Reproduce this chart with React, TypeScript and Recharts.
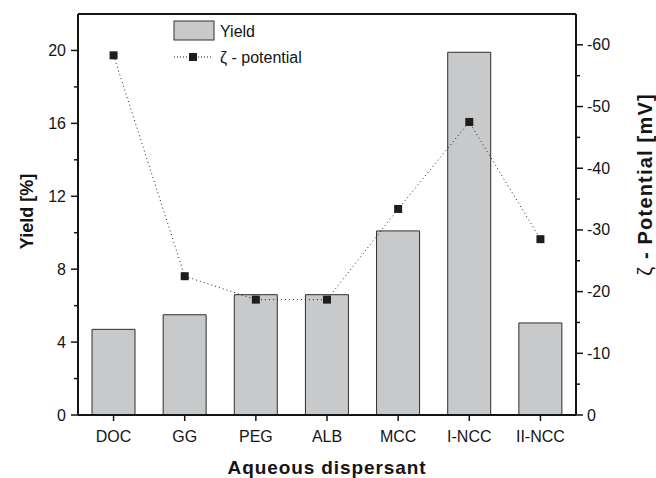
import {
  ComposedChart,
  Bar,
  Line,
  XAxis,
  YAxis,
  Legend,
  ReferenceLine,
} from 'recharts';

const categories = ['DOC', 'GG', 'PEG', 'ALB', 'MCC', 'I-NCC', 'II-NCC'];
const yieldValues = [4.7, 5.5, 6.6, 6.6, 10.1, 19.9, 5.05];
const zetaValues = [-58.3, -22.5, -18.7, -18.7, -33.4, -47.5, -28.5];

const yieldTicks = [0, 2, 4, 6, 8, 10, 12, 14, 16, 18, 20];
const zetaTicks = [0, -5, -10, -15, -20, -25, -30, -35, -40, -45, -50, -55, -60];

const data = categories.map((name, i) => ({
  name,
  yield: yieldValues[i],
  zeta: zetaValues[i],
}));

const FONT = '"Liberation Sans", Arial, Helvetica, sans-serif';
const INK = '#141414';

const LeftTick = ({ x, y, payload }: any) => {
  const major = payload.value % 4 === 0;
  return (
    <g>
      <line x1={x} x2={x - (major ? 7 : 4)} y1={y} y2={y} stroke={INK} strokeWidth={1.5} />
      {major && (
        <text x={x - 12} y={y} textAnchor="end" dominantBaseline="central" fontSize={16} fill={INK} fontFamily={FONT}>
          {payload.value}
        </text>
      )}
    </g>
  );
};

const RightTick = ({ x, y, payload }: any) => {
  const major = payload.value % 10 === 0;
  return (
    <g>
      <line x1={x} x2={x + (major ? 7 : 4)} y1={y} y2={y} stroke={INK} strokeWidth={1.5} />
      {major && (
        <text x={x + 11} y={y} textAnchor="start" dominantBaseline="central" fontSize={16} fill={INK} fontFamily={FONT}>
          {payload.value}
        </text>
      )}
    </g>
  );
};

const SquareDot = ({ cx, cy, index }: any) => (
  <rect key={index} x={cx - 4} y={cy - 4} width={8} height={8} fill="#1e1e1e" />
);

const renderLegend = () => (
  <svg width={170} height={52} style={{ display: 'block', fontFamily: FONT }}>
    <rect x={2} y={5} width={40} height={19} fill="#c8c9cb" stroke="#333" strokeWidth={1} />
    <text x={48} y={15} dominantBaseline="central" fontSize={16} fill={INK}>Yield</text>
    <line x1={2} x2={41} y1={41} y2={41} stroke={INK} strokeWidth={1} strokeDasharray="1 2" />
    <rect x={17} y={37} width={8} height={8} fill="#1e1e1e" />
    <text x={48} y={41} dominantBaseline="central" fontSize={16} fill={INK}>ζ - potential</text>
  </svg>
);

const LeftTitle = ({ viewBox }: any) => {
  const cx = viewBox.x + 27;
  const cy = viewBox.y + viewBox.height / 2 - 3;
  return (
    <text
      x={cx}
      y={cy}
      transform={`rotate(-90, ${cx}, ${cy})`}
      textAnchor="middle"
      dominantBaseline="central"
      fontSize={18}
      fontWeight="bold"
      fill={INK}
      fontFamily={FONT}
    >
      Yield [%]
    </text>
  );
};

const RightTitle = ({ viewBox }: any) => {
  const cx = viewBox.x + 69;
  const cy = viewBox.y + viewBox.height / 2 - 30;
  return (
    <text
      x={cx}
      y={cy}
      transform={`rotate(-90, ${cx}, ${cy})`}
      textAnchor="middle"
      dominantBaseline="central"
      fontSize={20}
      letterSpacing={1.2}
      fill={INK}
      fontFamily={FONT}
    >
      <tspan fontWeight="normal">ζ</tspan>
      <tspan fontWeight="bold"> - Potential [mV]</tspan>
    </text>
  );
};

const BottomTitle = ({ viewBox }: any) => (
  <text
    x={viewBox.x + viewBox.width / 2}
    y={viewBox.y + 52}
    textAnchor="middle"
    dominantBaseline="central"
    fontSize={19}
    letterSpacing={0.9}
    fontWeight="bold"
    fill={INK}
    fontFamily={FONT}
  >
    Aqueous dispersant
  </text>
);

export default function App() {
  return (
    <div style={{ position: 'absolute', left: 0, top: 0, width: 656, height: 478, background: '#fff', fontFamily: FONT }}>
      <ComposedChart
        width={656}
        height={478}
        data={data}
        margin={{ top: 14, right: 0, bottom: 0, left: 0 }}
        barCategoryGap={0}
      >
        <XAxis
          dataKey="name"
          xAxisId={0}
          interval={0}
          height={63}
          axisLine={{ stroke: INK, strokeWidth: 2 }}
          tickLine={{ stroke: INK, strokeWidth: 1.5 }}
          tickSize={6}
          tickMargin={10}
          tick={{ fill: INK, fontSize: 16, fontFamily: FONT }}
          label={<BottomTitle />}
        />
        <YAxis
          yAxisId="left"
          orientation="left"
          width={78}
          domain={[0, 22]}
          ticks={yieldTicks}
          interval={0}
          allowDataOverflow
          axisLine={{ stroke: INK, strokeWidth: 2 }}
          tickLine={false}
          tickSize={0}
          tickMargin={0}
          tick={<LeftTick />}
          label={<LeftTitle />}
        />
        <YAxis
          yAxisId="right"
          orientation="right"
          width={80}
          domain={[-65, 0]}
          reversed
          ticks={zetaTicks}
          interval={0}
          allowDataOverflow
          axisLine={{ stroke: INK, strokeWidth: 2 }}
          tickLine={false}
          tickSize={0}
          tickMargin={0}
          tick={<RightTick />}
          label={<RightTitle />}
        />
        <ReferenceLine y={22} yAxisId="left" stroke={INK} strokeWidth={2} />
        <Legend
          content={renderLegend}
          layout="vertical"
          verticalAlign="middle"
          align="center"
          wrapperStyle={{ top: 16, left: 172, width: 170, height: 52 }}
        />
        <Bar
          yAxisId="left"
          dataKey="yield"
          name="Yield"
          barSize={43}
          fill="#c8c9cb"
          stroke="#2e2e2e"
          strokeWidth={1}
          isAnimationActive={false}
        />
        <Line
          yAxisId="right"
          dataKey="zeta"
          name="ζ - potential"
          type="linear"
          stroke="#222"
          strokeWidth={1}
          strokeDasharray="1 3"
          dot={<SquareDot />}
          activeDot={false}
          isAnimationActive={false}
        />
      </ComposedChart>
    </div>
  );
}
